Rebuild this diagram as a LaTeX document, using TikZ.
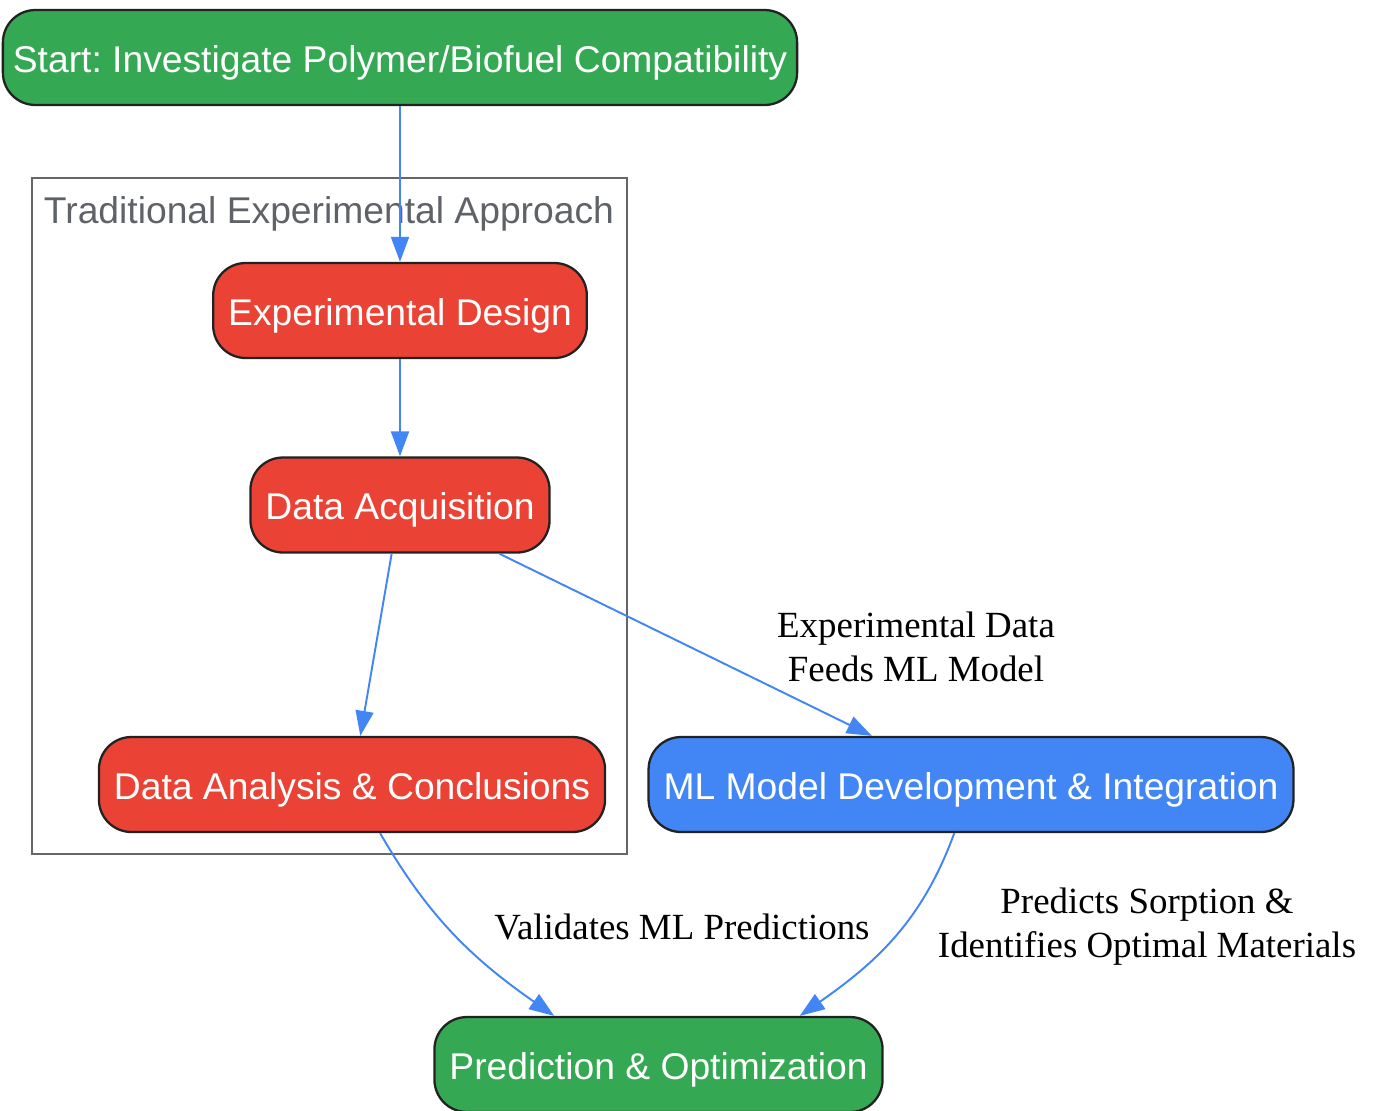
\documentclass[tikz,border=0pt]{standalone}
\usepackage{fontspec}
\setmainfont{Liberation Serif}
\setsansfont{Liberation Sans}
\usetikzlibrary{arrows.meta}
\frenchspacing

\definecolor{startgreen}{HTML}{34A853}
\definecolor{exred}{HTML}{EA4335}
\definecolor{mlblue}{HTML}{4285F4}
\definecolor{rim}{HTML}{222222}
\definecolor{clustergray}{HTML}{666666}
\definecolor{titlegray}{HTML}{5F6368}

\tikzset{
  box/.style={draw=rim, line width=1.3pt, rounded corners=0.65cm, text=white,
    font=\sffamily\fontsize{21.2}{25}\selectfont, minimum height=1.9cm, inner xsep=0.3cm,
    text height=18pt, text depth=1.5pt},
  greenbox/.style={box, fill=startgreen},
  redbox/.style={box, fill=exred},
  bluebox/.style={box, fill=mlblue},
  flow/.style={draw=mlblue, line width=1.1pt, -{Triangle[length=0.5cm, width=0.36cm]}},
  lbl/.style={font=\fontsize{21}{25}\selectfont, align=center}
}

\begin{document}
\begin{tikzpicture}[x=0.02cm, y=-0.02cm]
\useasboundingbox (0,0) rectangle (1375,1110);
% cluster
\draw[clustergray, line width=1.1pt] (32,178) rectangle (627,854);
\node[text=titlegray, font=\sffamily\fontsize{21.2}{25}\selectfont] (ctitle) at (329,214) {Traditional Experimental Approach};
% nodes
\node[greenbox, inner xsep=0.2cm] (start) at (400,57.5) {Start: Investigate Polymer/Biofuel Compatibility};
\node[redbox] (design) at (400,310.5) {Experimental Design};
\node[redbox] (acq) at (400,505) {Data Acquisition};
\node[redbox] (ana) at (352,784.5) {Data Analysis \& Conclusions};
\node[bluebox] (ml) at (971,784.5) {ML Model Development \& Integration};
\node[greenbox] (pred) at (658.5,1064.5) {Prediction \& Optimization};
% edges
\draw[flow] (start) -- (design);
\draw[flow] (design) -- (acq);
\draw[flow] (acq) -- (ana);
\draw[flow] (acq) -- (ml);
\draw[flow] (ana.-60) to[out=-60, in=145] (pred.155);
\draw[flow] (ml.-109) to[out=-110, in=35] (pred.19);
% labels
\node[lbl] (l1) at (916,647) {Experimental Data\\Feeds ML Model};
\node[lbl] (l2) at (682,927) {Validates ML Predictions};
\node[lbl] (l3) at (1147,927) {Predicts Sorption \&\\Identifies Optimal Materials};
\end{tikzpicture}
\end{document}
